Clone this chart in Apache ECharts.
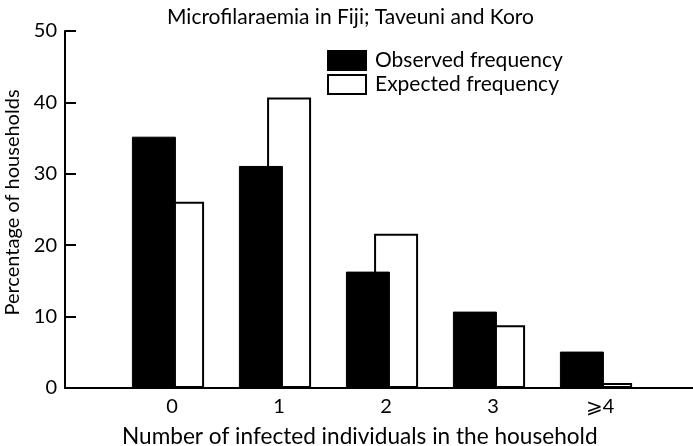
<!DOCTYPE html>
<html>
<head>
<meta charset="utf-8">
<script src="https://cdn.jsdelivr.net/npm/echarts@6/dist/echarts.min.js"></script>
<style>html,body{margin:0;padding:0;background:#fff}#c{width:693px;height:446px}</style>
</head>
<body>
<div id="c"></div>
<script>
var categories = ['0', '1', '2', '3', '\u2A7E4'];
var observed = [35.2, 31.1, 16.3, 10.7, 5.1];
var expected = [26.1, 40.7, 21.6, 8.8, 0.7];
var seriesNames = ['Observed frequency', 'Expected frequency'];
var yTicks = [0, 10, 20, 30, 40, 50];

var FONT = 'Lato';
var chart = echarts.init(document.getElementById('c'), null, {renderer: 'canvas'});
chart.setOption({
  backgroundColor: '#fff',
  animation: false,
  textStyle: {fontFamily: FONT, color: '#000'},
  title: [
    {text: 'Microfilaraemia in Fiji; Taveuni and Koro', left: 167, top: 7, padding: 0,
     textStyle: {fontFamily: FONT, fontSize: 21, fontWeight: 'normal', color: '#000'}},
    {text: 'Number of infected individuals in the household', left: 122, top: 425, padding: 0,
     textStyle: {fontFamily: FONT, fontSize: 22.6, fontWeight: 'normal', color: '#000'}}
  ],
  legend: {
    orient: 'vertical', left: 327, top: 50, padding: 0, itemGap: 3,
    itemWidth: 38, itemHeight: 19, icon: 'rect',
    data: seriesNames,
    textStyle: {fontFamily: FONT, fontSize: 21, color: '#000', padding: [0, 0, 0, 4]}
  },
  grid: [
    {left: 65, right: 0, top: 31, bottom: 58, containLabel: false, outerBoundsMode: 'none'},
    {left: 114.5, right: 43.5, top: 31, bottom: 58, containLabel: false, outerBoundsMode: 'none'}
  ],
  xAxis: [
    {gridIndex: 0, type: 'value', min: 0, max: 1,
     axisLine: {show: true, onZero: false, lineStyle: {color: '#000', width: 2}},
     axisTick: {show: false}, axisLabel: {show: false}, splitLine: {show: false}},
    {gridIndex: 1, type: 'category', data: categories, boundaryGap: true,
     axisLine: {show: false}, axisTick: {show: false}, splitLine: {show: false},
     axisLabel: {fontFamily: FONT, fontSize: 20, color: '#000', margin: 9, padding: [0, 0, 0, 8]}}
  ],
  yAxis: [
    {gridIndex: 0, type: 'value', min: yTicks[0], max: yTicks[yTicks.length - 1], interval: 10,
     name: 'Percentage of households', nameLocation: 'middle', nameGap: 31, nameRotate: 90,
     nameTextStyle: {fontFamily: FONT, fontSize: 20, color: '#000', padding: [0, 0, 0, 14]},
     axisLine: {show: true, lineStyle: {color: '#000', width: 2}},
     axisTick: {show: true, inside: true, length: 11, lineStyle: {color: '#000', width: 2}},
     axisLabel: {fontFamily: FONT, fontSize: 20, color: '#000', margin: 8},
     splitLine: {show: false}},
    {gridIndex: 1, type: 'value', min: 0, max: 50, interval: 10, show: false}
  ],
  series: [
    {name: seriesNames[0], type: 'bar', xAxisIndex: 1, yAxisIndex: 1, data: observed,
     barWidth: 44, barGap: '-36%', z: 3,
     itemStyle: {color: '#000', borderColor: '#000', borderWidth: 1}},
    {name: seriesNames[1], type: 'bar', xAxisIndex: 1, yAxisIndex: 1, data: expected,
     barWidth: 44, z: 2,
     itemStyle: {color: '#fff', borderColor: '#000', borderWidth: 2}}
  ]
});
</script>
</body>
</html>
